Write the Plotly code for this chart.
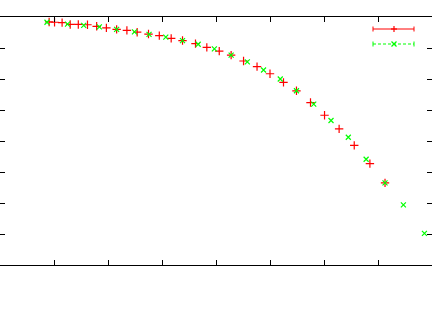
import plotly.graph_objects as go

# Series 1 (red "+")
red_x = [0.91, 1.01, 1.15, 1.30, 1.45, 1.62, 1.79, 1.97, 2.16, 2.35, 2.54, 2.75, 2.95, 3.17, 3.38,
         3.62, 3.83, 4.06, 4.28, 4.51, 4.76, 5.00, 5.25, 5.49, 5.75, 6.01, 6.28, 6.56, 6.85, 7.13]
red_y = [7.84, 7.83, 7.82, 7.76, 7.76, 7.75, 7.70, 7.65, 7.60, 7.57, 7.51, 7.45, 7.40, 7.31, 7.24,
         7.14, 7.02, 6.90, 6.77, 6.58, 6.40, 6.17, 5.89, 5.62, 5.24, 4.83, 4.39, 3.86, 3.27, 2.65]

# Series 2 (green "x")
green_x = [0.87, 1.25, 1.55, 1.84, 2.16, 2.49, 2.76, 3.07, 3.38, 3.67, 3.97, 4.28, 4.58, 4.88,
           5.19, 5.49, 5.81, 6.13, 6.45, 6.78, 7.13, 7.47, 7.86]
green_y = [7.83, 7.77, 7.73, 7.68, 7.60, 7.52, 7.44, 7.35, 7.24, 7.12, 6.97, 6.77, 6.55, 6.29,
           6.00, 5.62, 5.19, 4.66, 4.12, 3.41, 2.65, 1.94, 1.02]

x_range = [0, 8]
y_range = [0, 8]
tick_step = 1

RED = "#ff0000"
GREEN = "#00ff00"

fig = go.Figure()
fig.add_trace(go.Scatter(x=red_x, y=red_y, mode="markers",
                         marker=dict(symbol="cross-thin", size=6, line=dict(color=RED, width=1.2)),
                         showlegend=False))
fig.add_trace(go.Scatter(x=green_x, y=green_y, mode="markers",
                         marker=dict(symbol="x-thin", size=5, line=dict(color=GREEN, width=1.2)),
                         showlegend=False))
# invisible trace to activate the right-hand axis (ticks only)
fig.add_trace(go.Scatter(x=[None], y=[None], yaxis="y2", showlegend=False, hoverinfo="skip"))

W, H = 432, 314
L, R, T, B = 0, 0, 17, 49
pw, ph = W - L - R, H - T - B

def px(x):
    return (x - L) / pw

def py(y):
    return (H - B - y) / ph

shapes = []
# manual key: red with error-bar caps, green dashed with caps
for yk, col, dash in [(29, RED, "solid"), (44, GREEN, "3px,2px")]:
    shapes.append(dict(type="line", xref="paper", yref="paper", x0=px(373), x1=px(414),
                       y0=py(yk), y1=py(yk), line=dict(color=col, width=1, dash=dash)))
    for xc in (373, 414):
        shapes.append(dict(type="line", xref="paper", yref="paper", x0=px(xc), x1=px(xc),
                           y0=py(yk - 2.5), y1=py(yk + 2.5), line=dict(color=col, width=1)))
# key point symbols
shapes.append(dict(type="line", xref="paper", yref="paper", x0=px(391), x1=px(397),
                   y0=py(29), y1=py(29), line=dict(color=RED, width=1.2)))
shapes.append(dict(type="line", xref="paper", yref="paper", x0=px(394), x1=px(394),
                   y0=py(26), y1=py(32), line=dict(color=RED, width=1.2)))
shapes.append(dict(type="line", xref="paper", yref="paper", x0=px(391.5), x1=px(396.5),
                   y0=py(41.5), y1=py(46.5), line=dict(color=GREEN, width=1.2)))
shapes.append(dict(type="line", xref="paper", yref="paper", x0=px(391.5), x1=px(396.5),
                   y0=py(46.5), y1=py(41.5), line=dict(color=GREEN, width=1.2)))

axis_common = dict(showgrid=False, zeroline=False, showticklabels=False,
                   ticks="inside", ticklen=5, tickcolor="#000000", tickwidth=1,
                   dtick=tick_step, tick0=0)

fig.update_layout(
    width=W, height=H,
    margin=dict(l=L, r=R, t=T, b=B, pad=0),
    paper_bgcolor="white", plot_bgcolor="white",
    xaxis=dict(range=x_range, showline=True, linecolor="#000000", linewidth=1,
               mirror="ticks", **axis_common),
    yaxis=dict(range=y_range, showline=True, linecolor="#000000", linewidth=1,
               **axis_common),
    yaxis2=dict(range=y_range, overlaying="y", side="right", anchor="x",
                showline=False, **axis_common),
    shapes=shapes,
    showlegend=False,
)

fig.write_html(
    "out.html",
    config={"displayModeBar": False},
    post_script="document.body.style.margin='0';document.body.style.padding='0';"
                "document.body.style.overflow='hidden';",
)
